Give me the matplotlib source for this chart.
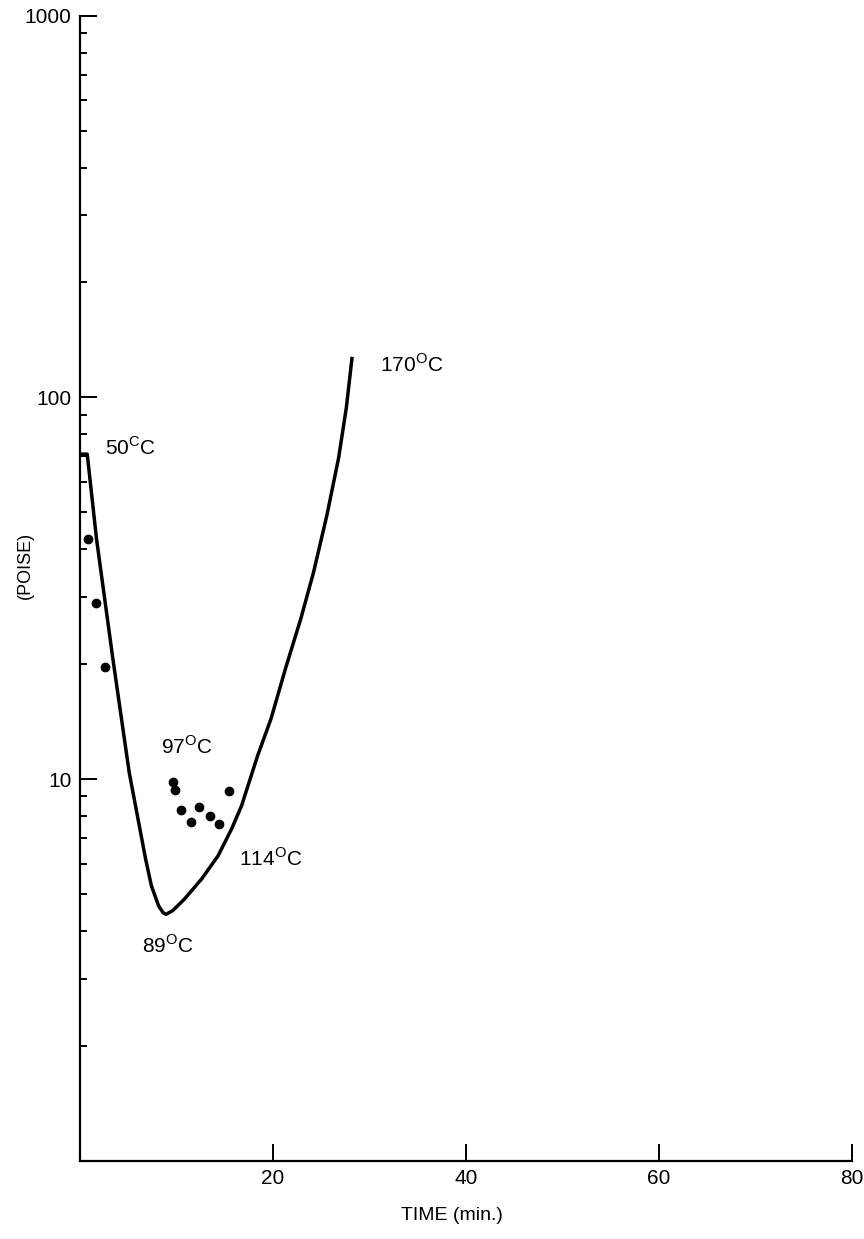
import numpy as np
import matplotlib
matplotlib.use("Agg")
import matplotlib.pyplot as plt
from matplotlib.ticker import LogLocator, FixedLocator, NullFormatter

plt.rcParams['font.family'] = ['Liberation Sans', 'DejaVu Sans']
plt.rcParams['mathtext.fontset'] = 'custom'
plt.rcParams['mathtext.rm'] = 'Liberation Sans'

# Viscosity curve (time in min, viscosity in poise)
curve_time = [0.0, 0.75, 1.7, 3.4, 5.1, 6.8, 7.4, 8.15, 8.6, 8.9, 9.6, 10.8,
              12.6, 14.3, 15.7, 16.75, 18.4, 19.8, 21.3, 22.9,
              24.2, 25.6, 26.8, 27.6, 28.2]
curve_poise = [71.0, 71.0, 42.8, 20.7, 10.4, 6.17, 5.25, 4.65, 4.47, 4.42, 4.52, 4.84,
               5.47, 6.29, 7.39, 8.52, 11.5, 14.4, 19.5, 26.4,
               34.8, 49.3, 69.4, 94.0, 127.7]

# Measured points
dots_time = [0.83, 1.69, 2.56,
             9.66, 9.82, 10.45, 11.48, 12.35, 13.45, 14.38, 15.46]
dots_poise = [42.6, 28.9, 19.6,
              9.81, 9.37, 8.31, 7.73, 8.47, 8.02, 7.62, 9.29]

# Temperature labels: (text, time, poise at baseline)
labels = [
    ("50$^{\\mathrm{C}}$C", 2.56, 70.7),
    ("170$^{\\mathrm{O}}$C", 31.1, 116.8),
    ("97$^{\\mathrm{O}}$C", 8.4, 11.65),
    ("114$^{\\mathrm{O}}$C", 16.5, 5.93),
    ("89$^{\\mathrm{O}}$C", 6.4, 3.51),
]

x_ticks = [20, 40, 60, 80]
y_major = [10, 100, 1000]

fig = plt.figure(figsize=(8.64, 12.39), dpi=100)
ax = fig.add_axes([80 / 864, 1 - 1160.7 / 1239, 772 / 864, (1160.7 - 15.7) / 1239])

ax.plot(curve_time, curve_poise, color='black', linewidth=2.5,
        solid_joinstyle='round', solid_capstyle='butt')
ax.plot(dots_time, dots_poise, 'o', color='black', markersize=6)

for txt, t, p in labels:
    ax.text(t, p, txt, fontsize=15, ha='left', va='baseline')

ax.set_yscale('log')
ax.set_xlim(0, 80)
ax.set_ylim(1, 1000)

ax.spines['top'].set_visible(False)
ax.spines['right'].set_visible(False)
for s in ('left', 'bottom'):
    ax.spines[s].set_linewidth(1.6)

ax.xaxis.set_major_locator(FixedLocator(x_ticks))
ax.yaxis.set_major_locator(FixedLocator(y_major))
ax.yaxis.set_minor_locator(LogLocator(base=10, subs=np.arange(2, 10)))
ax.yaxis.set_minor_formatter(NullFormatter())
ax.set_yticklabels([str(v) for v in y_major])
ax.set_xticklabels([str(v) for v in x_ticks])

ax.tick_params(axis='both', which='major', direction='in', length=12,
               width=1.4, labelsize=15, pad=6)
ax.tick_params(axis='y', which='minor', direction='in', length=5, width=1.4)

fig.text(452 / 864, 1 - 1215 / 1239, "TIME (min.)", fontsize=14,
         ha='center', va='center')
fig.text(25 / 864, 1 - 565 / 1239, "(POISE)", fontsize=13,
         ha='center', va='center', rotation=90)

fig.savefig("out.png", dpi=100, facecolor='white')
